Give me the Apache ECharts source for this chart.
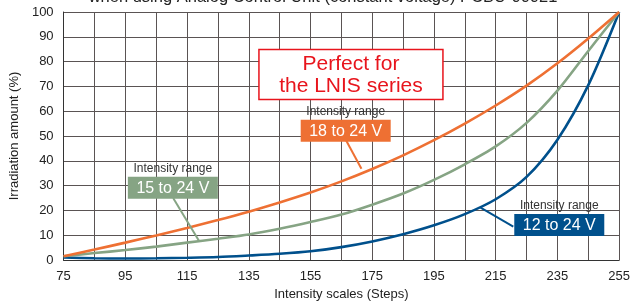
<!DOCTYPE html>
<html>
<head>
<meta charset="utf-8">
<script src="https://cdn.jsdelivr.net/npm/echarts@6/dist/echarts.min.js"></script>
<style>
  html, body { margin: 0; padding: 0; background: #fff; }
  #main { width: 633px; height: 306px; }
</style>
</head>
<body>
<div id="main"></div>
<script>
// intensity scale steps (x) and irradiation amount in % (y)
var steps = [75, 85, 95, 105, 115, 125, 135, 145, 155, 165, 175, 185, 195, 205, 215, 225, 235, 245, 255];
var range18to24 = [1.5, 4.2, 7.0, 9.9, 12.9, 16.1, 19.5, 23.2, 27.2, 31.7, 36.7, 42.2, 48.3, 55, 62.3, 70.3, 79.3, 89.3, 100];
var range15to24 = [1.5, 2.8, 4.0, 5.4, 7.0, 8.6, 10.3, 12.6, 15.3, 18.3, 22.3, 26.8, 32.3, 38.6, 45.8, 55.3, 68.3, 84.3, 100];
var range12to24 = [1.0, 0.7, 0.6, 0.7, 0.9, 1.2, 1.8, 2.5, 3.5, 5.2, 7.5, 10.4, 14, 18.5, 24.5, 33.5, 48.5, 70.5, 100];

var xTicks = [75, 95, 115, 135, 155, 175, 195, 215, 235, 255];

var ORANGE = '#ee7033';
var GREEN = '#86a484';
var BLUE = '#00508c';
var RED = '#e8141c';
var FONT = 'Liberation Sans, Arial, sans-serif';

function pairs(ys) {
	var out = [];
	for (var i = 0; i < steps.length; i++) {
		out.push([steps[i], ys[i]]);
	}
	return out;
}

var chart = echarts.init(document.getElementById('main'));

var option = {
	animation: false,
	title: {
		text: 'when using Analog Control Unit (constant voltage) PCBU-00021',
		left: 323,
		textAlign: 'center',
		top: -11,
		padding: 0,
		textStyle: { fontFamily: FONT, fontSize: 16.5, fontWeight: 'normal', color: '#222' }
	},
	grid: { left: 56, right: 10, top: 12, bottom: 44 },
	xAxis: {
		type: 'value',
		min: 75,
		max: 255,
		interval: 10,
		name: 'Intensity scales (Steps)',
		nameLocation: 'middle',
		nameGap: 28,
		nameTextStyle: { fontFamily: FONT, fontSize: 13, color: '#222' },
		axisLine: { lineStyle: { color: '#333', width: 1 } },
		axisTick: { show: false },
		axisLabel: {
			fontFamily: FONT, fontSize: 13, color: '#222', margin: 10,
			formatter: function (v) { return xTicks.indexOf(v) >= 0 ? String(v) : ''; }
		},
		splitLine: { show: true, lineStyle: { color: '#5a5454', width: 1 } }
	},
	yAxis: {
		type: 'value',
		min: 0,
		max: 100,
		interval: 10,
		name: 'Irradiation amount (%)',
		nameLocation: 'middle',
		nameGap: 38,
		nameTextStyle: { fontFamily: FONT, fontSize: 13, color: '#222' },
		axisLine: { show: true, lineStyle: { color: '#333', width: 1 } },
		axisTick: { show: false },
		axisLabel: { fontFamily: FONT, fontSize: 13, color: '#222', margin: 10 },
		splitLine: { show: true, lineStyle: { color: '#5a5454', width: 1 } }
	},
	series: [
		{
			name: '18 to 24 V', type: 'line', data: pairs(range18to24),
			smooth: 0.3, showSymbol: false, z: 4,
			lineStyle: { color: ORANGE, width: 2.6 }
		},
		{
			name: '15 to 24 V', type: 'line', data: pairs(range15to24),
			smooth: 0.3, showSymbol: false, z: 3,
			lineStyle: { color: GREEN, width: 2.6 }
		},
		{
			name: '12 to 24 V', type: 'line', data: pairs(range12to24),
			smooth: 0.3, showSymbol: false, z: 2,
			lineStyle: { color: BLUE, width: 2.6 }
		}
	]
};
chart.setOption(option);

// annotations, anchored in data coordinates
function px(x, y) { return chart.convertToPixel({ gridIndex: 0 }, [x, y]); }

function rangeLabel(center, color, text, from, to) {
	var c = px(center[0], center[1]);
	var a = px(from[0], from[1]);
	var b = px(to[0], to[1]);
	return [
		{ type: 'line', z: 10, shape: { x1: a[0], y1: a[1], x2: b[0], y2: b[1] }, style: { stroke: color, lineWidth: 2 } },
		{ type: 'rect', z: 11, shape: { x: c[0] - 45, y: c[1] - 11, width: 90, height: 22 }, style: { fill: color } },
		{ type: 'text', z: 12, style: { text: text, x: c[0], y: c[1] + 1, align: 'center', verticalAlign: 'middle', fill: '#fff', font: '16px ' + FONT } },
		{ type: 'text', z: 12, style: { text: 'Intensity range', x: c[0], y: c[1] - 19, align: 'center', verticalAlign: 'middle', fill: '#333', font: '12px ' + FONT } }
	];
}

var box = px(168.1, 74.8);
var elements = [
	{ type: 'rect', z: 10, shape: { x: box[0] - 92, y: box[1] - 25, width: 184, height: 50 }, style: { fill: '#fff', stroke: RED, lineWidth: 1.5 } },
	{ type: 'text', z: 11, style: { text: 'Perfect for\nthe LNIS series', x: box[0], y: box[1] + 1, align: 'center', verticalAlign: 'middle', fill: RED, font: '21px ' + FONT, lineHeight: 22 } }
];
elements = elements.concat(rangeLabel([166.4, 52.1], ORANGE, '18 to 24 V', [166.2, 49], [171.5, 36.8]));
elements = elements.concat(rangeLabel([110.4, 29.1], GREEN, '15 to 24 V', [110.5, 25], [118.9, 7.7]));
elements = elements.concat(rangeLabel([235.6, 14.1], BLUE, '12 to 24 V', [220.7, 13.5], [210.1, 21.1]));

chart.setOption({ graphic: { elements: elements } });
</script>
</body>
</html>
